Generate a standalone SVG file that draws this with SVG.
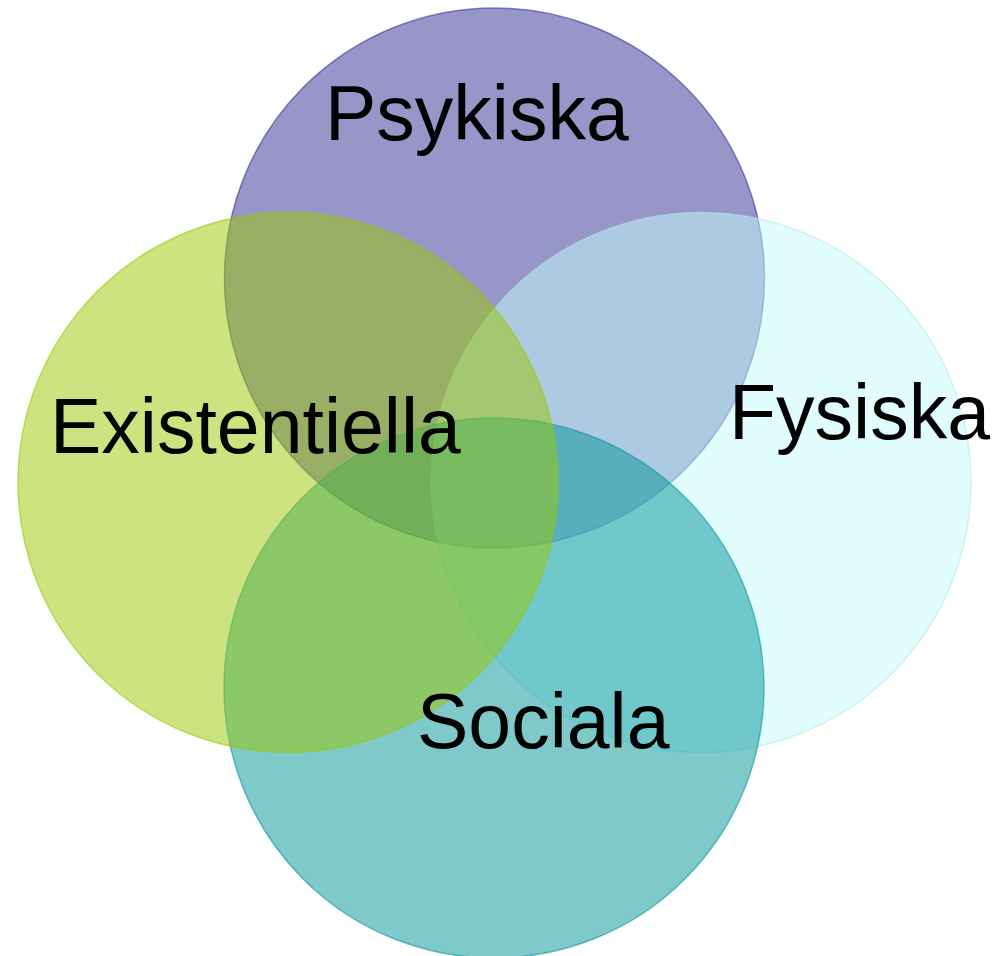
<svg xmlns="http://www.w3.org/2000/svg" width="999" height="956" viewBox="0 0 999 956">
<style>
.lbl{font-family:"Liberation Sans",Arial,sans-serif;font-size:77px;fill:#000}
.c{fill-opacity:0.5;stroke-width:1.5;stroke-opacity:0.55}
</style>
<rect width="999" height="956" fill="#fff"/>
<g id="psykiska">
<circle class="c" cx="494.5" cy="278" r="270" fill="#312d91" stroke="#312d91"/>
</g>
<g id="fysiska">
<circle class="c" cx="701" cy="482.5" r="270" fill="#c3fcfc" stroke="#b0e8e8"/>
</g>
<g id="sociala">
<circle class="c" cx="494" cy="688" r="270" fill="#019397" stroke="#019397"/>
</g>
<g id="existentiella">
<circle class="c" cx="288" cy="482.5" r="270" fill="#99c701" stroke="#99c701"/>
</g>
<g id="labels">
<text class="lbl" x="325" y="140">Psykiska</text>
<text class="lbl" x="50" y="453">Existentiella</text>
<text class="lbl" x="729" y="439">Fysiska</text>
<text class="lbl" x="417" y="748">Sociala</text>
</g>
<g id="connectors"></g>
</svg>
